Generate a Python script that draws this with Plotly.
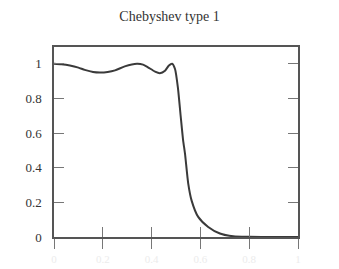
import plotly.graph_objects as go

# Normalized frequency and gain
freq = [0.0, 0.03, 0.065, 0.1, 0.126, 0.16, 0.188, 0.22, 0.25, 0.29, 0.34, 0.365, 0.385, 0.414, 0.434,
        0.455, 0.471, 0.484, 0.496, 0.508, 0.519, 0.529, 0.537, 0.55, 0.564, 0.591, 0.632, 0.68, 0.735,
        0.8, 0.9, 1.0]
gain = [1.0, 0.997, 0.99, 0.978, 0.965, 0.953, 0.95, 0.953, 0.962, 0.985, 1.0, 0.995, 0.98, 0.955, 0.946,
        0.96, 0.99, 1.0, 0.97, 0.86, 0.7, 0.56, 0.48, 0.31, 0.21, 0.116, 0.058, 0.02, 0.004,
        0.001, 0.0, 0.0]

x_ticks = [0, 0.2, 0.4, 0.6, 0.8, 1]
x_labels = ["0", "0.2", "0.4", "0.6", "0.8", "1"]
y_ticks = [0, 0.2, 0.4, 0.6, 0.8, 1]
y_labels = ["0", "0.2", "0.4", "0.6", "0.8", "1"]

font = "Liberation Serif, Times New Roman, serif"

fig = go.Figure()
fig.add_trace(go.Scatter(x=freq, y=gain, mode="lines",
                         line=dict(color="#3a3a3a", width=2, shape="spline", smoothing=0.6),
                         hoverinfo="skip", showlegend=False))
fig.add_trace(go.Scatter(x=freq, y=gain, mode="lines", xaxis="x2",
                         line=dict(color="rgba(0,0,0,0)", width=0),
                         hoverinfo="skip", showlegend=False))

fig.update_layout(
    width=339, height=269,
    margin=dict(l=54, r=41, t=47, b=32, autoexpand=False),
    paper_bgcolor="white", plot_bgcolor="white",
    title=dict(text="Chebyshev type 1", x=0.5, xanchor="center", y=1 - 16 / 269, yanchor="middle",
               font=dict(family=font, size=14, color="#333"), automargin=False),
    xaxis=dict(range=[0, 1], tickvals=x_ticks, ticktext=x_labels, ticks="outside", ticklen=10,
               tickwidth=1, tickcolor="#777", showgrid=False, zeroline=False, automargin=False,
               showline=True, linecolor="#555", linewidth=1.5, mirror=True,
               tickfont=dict(family=font, size=11, color="#ececec"), ticklabelstandoff=1),
    xaxis2=dict(range=[0, 1], overlaying="x", side="bottom", tickvals=x_ticks, ticks="inside",
                ticklen=10, tickwidth=1, tickcolor="#777", showticklabels=False, showgrid=False,
                zeroline=False, showline=False, automargin=False),
    yaxis=dict(range=[0, 1.097], tickvals=y_ticks, ticktext=y_labels, ticks="inside", ticklen=10,
               tickwidth=1, tickcolor="#777", showgrid=False, zeroline=False, automargin=False,
               showline=True, linecolor="#555", linewidth=1.5, mirror="ticks",
               tickfont=dict(family=font, size=13, color="#333"), ticklabelstandoff=8),
)

fig.write_html("out.html")
